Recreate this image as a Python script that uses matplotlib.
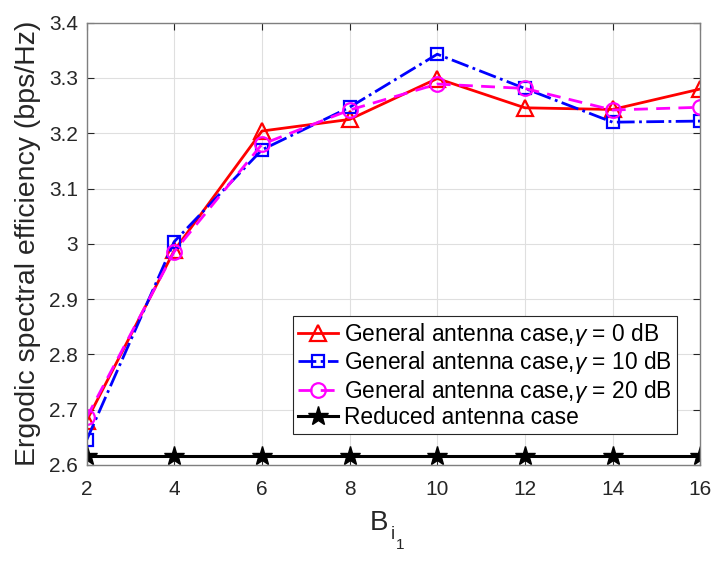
import matplotlib
matplotlib.use("Agg")
import matplotlib.pyplot as plt
import numpy as np

plt.rcParams['font.family'] = ['Liberation Sans', 'DejaVu Sans']
plt.rcParams['mathtext.fontset'] = 'custom'
plt.rcParams['mathtext.rm'] = 'Liberation Sans'
plt.rcParams['mathtext.it'] = 'Liberation Sans:italic'

B = [2, 4, 6, 8, 10, 12, 14, 16]
gen_0dB = [2.680, 2.988, 3.204, 3.225, 3.299, 3.246, 3.243, 3.280]
gen_10dB = [2.645, 3.004, 3.170, 3.247, 3.343, 3.281, 3.220, 3.222]
gen_20dB = [2.686, 2.986, 3.180, 3.242, 3.289, 3.281, 3.242, 3.247]
reduced = [2.617] * 8

labels = [r'General antenna case,$\gamma$ = 0 dB',
          r'General antenna case,$\gamma$ = 10 dB',
          r'General antenna case,$\gamma$ = 20 dB',
          'Reduced antenna case']

fig = plt.figure(figsize=(7.16, 5.67), dpi=100)
ax = fig.add_axes([0.121, 0.180, 0.857, 0.780])

ax.plot(B, gen_0dB, color='#ff0000', linestyle='-', linewidth=2, marker='^',
        markersize=12, markerfacecolor='none', markeredgewidth=1.6, label=labels[0])
ax.plot(B, gen_10dB, color='#0000ff', linestyle='-.', linewidth=2, marker='s',
        markersize=8.5, markerfacecolor='none', markeredgewidth=1.6, label=labels[1])
ax.plot(B, gen_20dB, color='#ff00ff', linestyle='--', linewidth=2, marker='o',
        markersize=10.5, markerfacecolor='none', markeredgewidth=1.6, label=labels[2],
        dashes=(5, 3))
ax.plot(B, reduced, color='black', linestyle='-', linewidth=2.2, marker='*',
        markersize=15, label=labels[3])

ax.set_xlim(2, 16)
ax.set_ylim(2.6, 3.4)
ax.set_xticks(B)
ax.set_xticklabels([str(b) for b in B])
yt = [2.6, 2.7, 2.8, 2.9, 3.0, 3.1, 3.2, 3.3, 3.4]
ax.set_yticks(yt)
ax.set_yticklabels(['2.6', '2.7', '2.8', '2.9', '3', '3.1', '3.2', '3.3', '3.4'])

ax.grid(True, color='#dfdfdf', linewidth=0.8)
ax.set_axisbelow(True)
ax.tick_params(direction='in', top=True, right=True, labelsize=15,
               colors='#262626', length=5, width=0.8)
ax.tick_params(axis='x', pad=11)
ax.tick_params(axis='y', pad=6)
for s in ax.spines.values():
    s.set_color('#7f7f7f')
    s.set_linewidth(1.0)

# x label: B with nested subscripts i and 1 (MATLAB-style sizes)
xl = ax.set_xlabel('B', fontsize=20, color='#262626', labelpad=8)
xl.set_x(0.477)
sub_i = ax.annotate('i', xy=(1, 0), xycoords=xl, xytext=(1.5, -4.5),
                    textcoords='offset points', fontsize=13, color='#262626',
                    ha='left', va='bottom')
ax.annotate('1', xy=(1, 0), xycoords=sub_i, xytext=(0.5, -6.5),
            textcoords='offset points', fontsize=11, color='#262626',
            ha='left', va='bottom')

ax.set_ylabel('Ergodic spectral efficiency (bps/Hz)', fontsize=20.5, color='#262626',
              labelpad=6)

leg = ax.legend(loc='lower right', bbox_to_anchor=(0.9625, 0.0695), fontsize=16.4,
                frameon=True, fancybox=False, edgecolor='#262626', framealpha=1,
                handlelength=1.75, handletextpad=0.27, borderpad=0.22, labelspacing=0.06,
                borderaxespad=0)
leg.get_frame().set_linewidth(0.8)

fig.savefig('out.png', dpi=100)
